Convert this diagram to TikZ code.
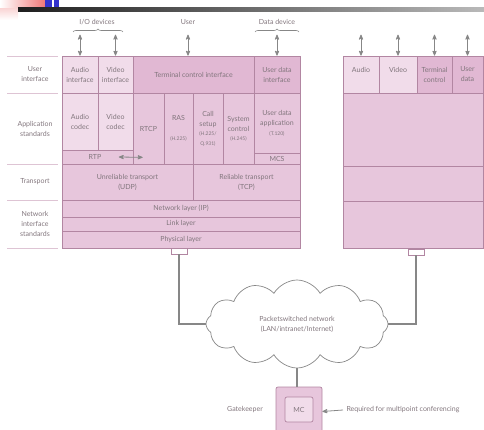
\documentclass[tikz,border=0pt]{standalone}
\usepackage{fontspec}
\setsansfont{Lato}
\usetikzlibrary{arrows}
\usetikzlibrary{shapes.symbols}
\usetikzlibrary{decorations.pathreplacing}

\definecolor{cellpink}{RGB}{231,198,220}
\definecolor{lightpink}{RGB}{241,220,234}
\definecolor{darkpink}{RGB}{225,184,211}
\definecolor{edgepink}{RGB}{178,134,162}
\definecolor{rulepink}{RGB}{222,196,212}
\definecolor{txtgrey}{RGB}{130,118,125}
\definecolor{wiregrey}{RGB}{135,135,135}
\definecolor{headred}{RGB}{240,120,120}
\definecolor{headpale}{RGB}{250,215,215}
\definecolor{headblue}{RGB}{52,52,205}
\definecolor{bardark}{RGB}{30,30,30}
\definecolor{barlight}{RGB}{185,185,185}

\newcommand{\tinyfont}{\fontsize{5}{6}\selectfont}

\begin{document}
\begin{tikzpicture}[font=\sffamily\fontsize{7}{10}\selectfont,
>=stealth',
x=1pt, y=-1pt,
cell/.style={draw=edgepink, fill=cellpink, line width=0.7pt, inner sep=0pt,
  align=center, text=txtgrey},
lcell/.style={cell, fill=lightpink},
dcell/.style={cell, fill=darkpink},
lbl/.style={text=txtgrey, align=center}]
\tikzstyle{dbl} = [<->, wiregrey, line width=0.8pt]
\tikzstyle{wire} = [wiregrey, line width=1.1pt]
\tikzstyle{br} = [decorate, decoration={brace, amplitude=3pt}, wiregrey, line width=0.6pt]
\useasboundingbox (0,0) rectangle (484,430);
\clip (0,0) rectangle (484,430);

% slide header stuff:
\shade[left color=white, right color=headred] (0,0) rectangle (45,9);
\shade[top color=headpale, bottom color=white] (0,9) rectangle (18,20);
\fill[headblue] (45,0) rectangle (52,9);
\fill[headblue] (54,0) rectangle (59,9);
\shade[left color=bardark, right color=barlight] (18,8) rectangle (484,12);

% left terminal
\node[lcell, minimum width=36, minimum height=37] (ai) at (80,74.5) {Audio\\interface};
\node[lcell, minimum width=35, minimum height=37] (vi) at (115.5,74.5) {Video\\interface};
\node[dcell, minimum width=121, minimum height=37] (tci) at (193.5,74.5) {Terminal control interface};
\node[dcell, minimum width=46, minimum height=37] (udi) at (277,74.5) {User data\\interface};
\node[lcell, minimum width=36, minimum height=57] (ac) at (80,121.5) {Audio\\codec};
\node[lcell, minimum width=35, minimum height=57] (vc) at (115.5,121.5) {Video\\codec};
\node[cell, minimum width=71, minimum height=14] (rtp) at (97.5,157) {};
\node[lbl] (rtplbl) at (95,157) {RTP};
\node[cell, minimum width=31, minimum height=71] (rtcp) at (148.5,128.5) {RTCP};
\node[cell, minimum width=29, minimum height=71] (ras) at (178.5,128.5) {RAS\\[10pt]\tinyfont (H.225)};
\node[cell, minimum width=30, minimum height=71] (cs) at (208,128.5) {Call\\setup\\[-1pt]\tinyfont (H.225/\\\tinyfont Q.931)};
\node[cell, minimum width=31, minimum height=71] (sc) at (238.5,128.5) {System\\control\\[-1pt]\tinyfont (H.245)};
\node[cell, minimum width=46, minimum height=60] (uda) at (277,123) {User data\\application\\\tinyfont (T.120)};
\node[cell, minimum width=46, minimum height=11] (mcs) at (277,158.5) {MCS};
\node[cell, minimum width=131, minimum height=36] (udp) at (127.5,182) {Unreliable transport\\(UDP)};
\node[cell, minimum width=107, minimum height=36] (tcp) at (246.5,182) {Reliable transport\\(TCP)};
\node[cell, minimum width=238, minimum height=17] (ip) at (181,208.5) {Network layer (IP)};
\node[cell, minimum width=238, minimum height=14] (link) at (181,224) {Link layer};
\node[cell, minimum width=238, minimum height=17] (phy) at (181,239.5) {Physical layer};
\node[cell, fill=white, minimum width=16, minimum height=6] (lport) at (179,251) {};
\draw[dbl] ([xshift=14pt]rtplbl.east) -- ([xshift=10pt,yshift=7pt]rtcp.south west);

% layer names
\node[lbl] (uil) at (35,74.5) {User\\interface};
\node[lbl] (apl) at (35,128.5) {Application\\standards};
\node[lbl] (trl) at (35,182) {Transport};
\node[lbl] (nil) at (35,224) {Network\\interface\\standards};
\foreach \y in {56,93,164,200,248}
  \draw[rulepink, line width=0.8pt] (7,\y) -- (58,\y);

% right terminal
\node[lcell, minimum width=36, minimum height=37] (ra) at (361,74.5) {Audio\\~};
\node[lcell, minimum width=38, minimum height=37] (rv) at (398,74.5) {Video\\~};
\node[dcell, minimum width=35, minimum height=37] (rt) at (434.5,74.5) {Terminal\\control};
\node[dcell, minimum width=31, minimum height=37] (ru) at (467.5,74.5) {User\\data};
\node[cell, minimum width=140, minimum height=73] (rapp) at (413,129.5) {};
\node[cell, minimum width=140, minimum height=35] (rtr) at (413,183.5) {};
\node[cell, minimum width=140, minimum height=47] (rnet) at (413,224.5) {};
\node[cell, fill=white, minimum width=16, minimum height=6] (rport) at (416,252) {};

% devices on top
\node[lbl] (io) at (97,22) {I/O devices};
\node[lbl] (usr) at (188,22) {User};
\node[lbl] (dd) at (277,22) {Data device};
\draw[br] (73,32) -- (123,32);
\draw[br] (255,32) -- (299,32);
\draw[dbl] (ai.north) -- ([yshift=21pt]ai.north);
\draw[dbl] (vi.north) -- ([yshift=21pt]vi.north);
\draw[dbl] ([xshift=-5.5pt]tci.north) -- ([xshift=-5.5pt,yshift=21pt]tci.north);
\draw[dbl] (udi.north) -- ([yshift=21pt]udi.north);
\foreach \n in {ra,rv,rt,ru}
  \draw[dbl] (\n.north) -- ([yshift=21pt]\n.north);

% network
\node[cloud, cloud puffs=12, cloud puff arc=120, cloud ignores aspect, draw=wiregrey,
  line width=0.7pt, minimum width=182, minimum height=88, lbl, fill=white] (net) at (297,324)
  {Packetswitched network\\(LAN/intranet/Internet)};
\draw[wire] (lport.south) |- (net.west);
\draw[wire] (rport.south) |- (net.east);

% gatekeeper
\node[cell, rounded corners=2pt, minimum width=46, minimum height=49] (gk) at (299,411.5) {};
\node[lcell, rounded corners=2pt, minimum width=28, minimum height=25] (mc) at (299,409.5) {MC};
\draw[wire] (net.south) -- (net.south |- gk.north);
\node[lbl] (gklbl) at (245,410) {Gatekeeper};
\node[lbl, anchor=west] (req) at (343,410) {Required for multipoint conferencing};
\draw[->, wiregrey, line width=0.8pt] (req.west) -- (gk.east);

\end{tikzpicture}
\end{document}
